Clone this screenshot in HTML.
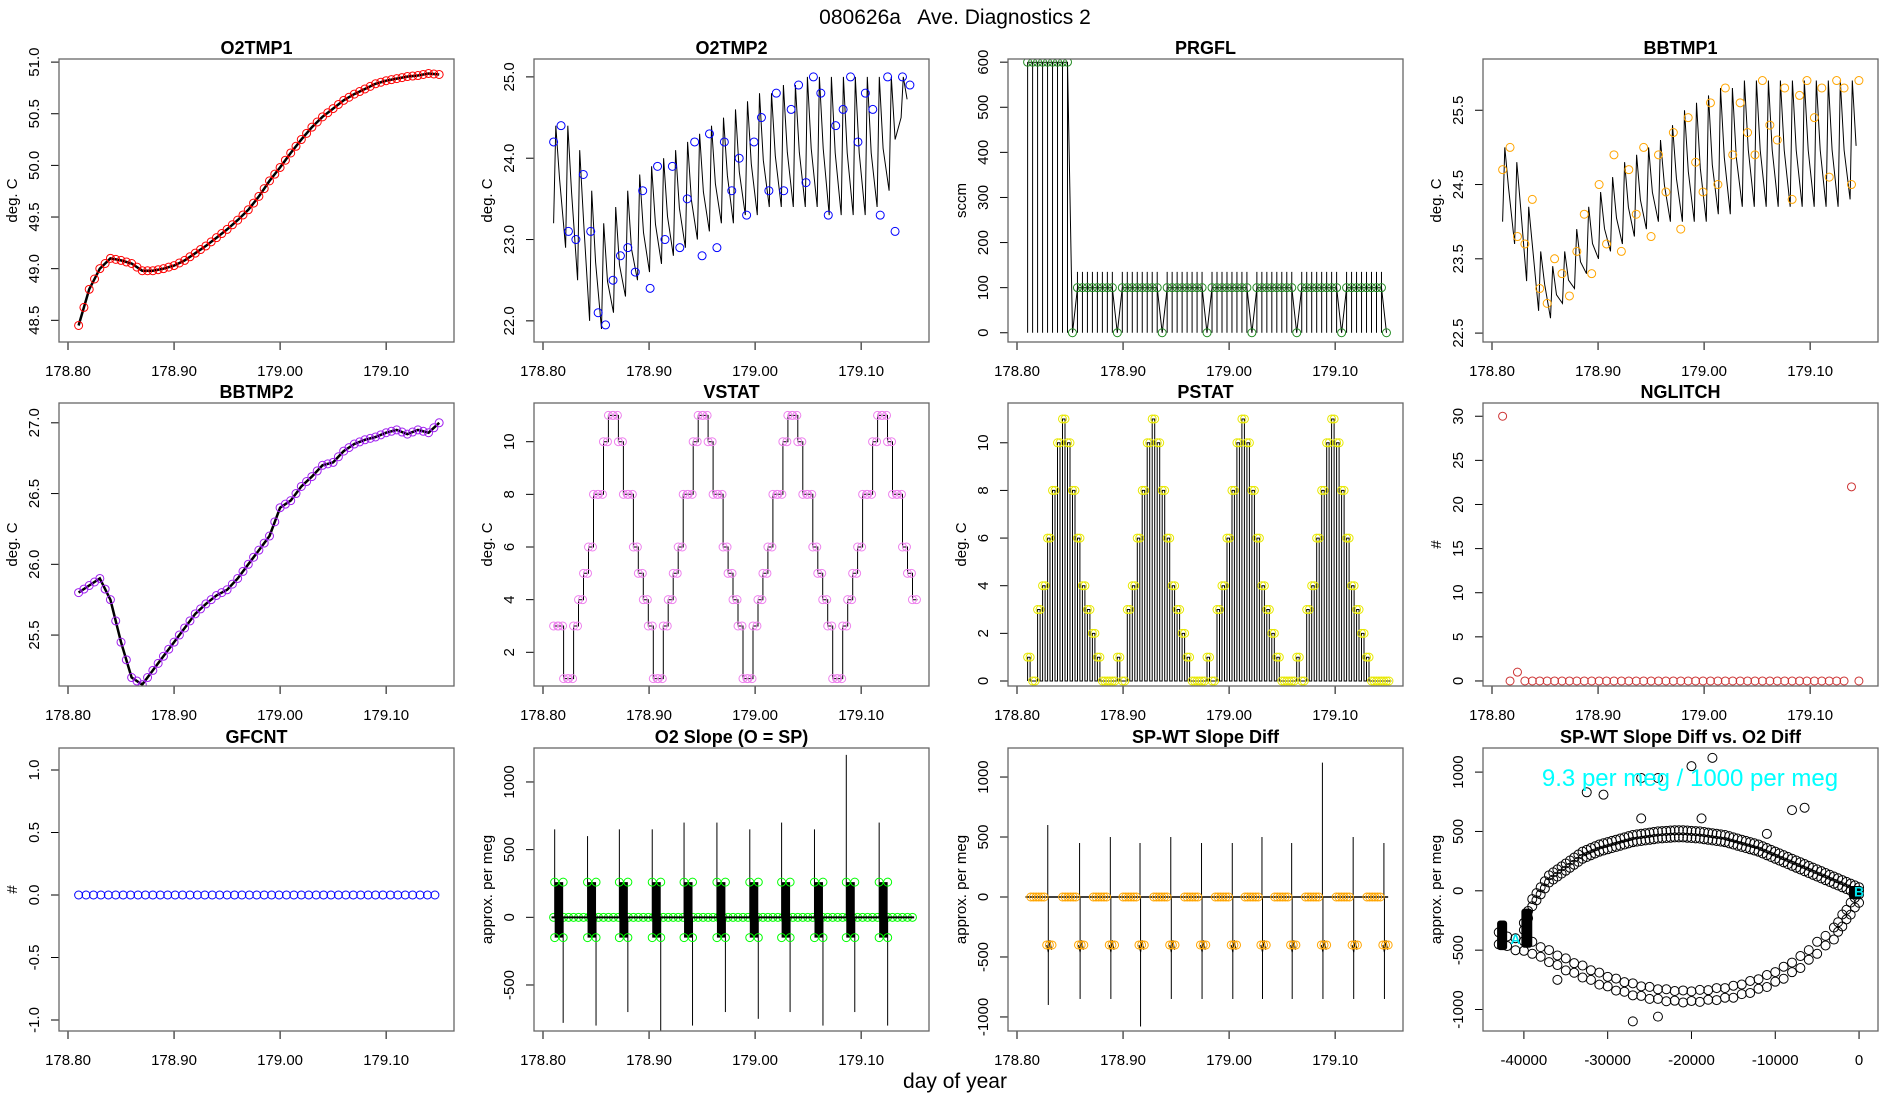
<!DOCTYPE html>
<html><head><meta charset="utf-8"><title>080626a Ave. Diagnostics 2</title>
<style>
html,body{margin:0;padding:0;background:#fff;}
svg{display:block;font-family:"Liberation Sans",sans-serif;}
</style></head>
<body>
<svg id="chart" width="1900" height="1100" viewBox="0 0 1900 1100" xmlns="http://www.w3.org/2000/svg">
<rect x="0" y="0" width="1900" height="1100" fill="#fff"/>
<text x="955" y="24" font-size="21" text-anchor="middle" style="white-space:pre" xml:space="preserve">080626a   Ave. Diagnostics 2</text>
<text x="955" y="1088" font-size="21" text-anchor="middle">day of year</text>
</svg>
<script>
// ---------------- data ----------------
const timeTicks = [178.80, 178.90, 179.00, 179.10];
const timeTickLabels = ["178.80", "178.90", "179.00", "179.10"];
const sampleStart = 178.81;
const sampleStep = 0.0047;
const circleStep = 0.007;
const sawStart = 178.81;
const sawPeriod = 0.0113;

const o2tmp1Times = [178.81,178.82,178.83,178.84,178.85,178.86,178.87,178.88,178.89,178.90,178.91,178.92,178.93,178.94,178.95,178.96,178.97,178.98,178.99,179.00,179.01,179.02,179.03,179.04,179.05,179.06,179.07,179.08,179.09,179.10,179.11,179.12,179.13,179.14,179.15];
const o2tmp1Values = [48.45,48.8,49.0,49.1,49.08,49.05,48.98,48.98,49.0,49.03,49.08,49.15,49.22,49.3,49.38,49.47,49.57,49.7,49.85,49.98,50.12,50.25,50.37,50.47,50.55,50.63,50.69,50.74,50.79,50.82,50.84,50.86,50.87,50.89,50.88];

const o2tmp2Peaks = [24.4,24.4,24.1,23.6,23.2,23.4,23.6,23.8,23.9,24.0,24.1,24.2,24.3,24.4,24.5,24.6,24.7,24.8,24.8,24.9,24.9,25.0,25.0,25.0,25.0,25.0,25.0,25.0,25.0,25.0];
const o2tmp2Troughs = [23.2,22.9,22.5,22.0,21.9,22.1,22.3,22.5,22.6,22.7,22.8,22.9,23.0,23.1,23.2,23.2,23.3,23.3,23.4,23.4,23.4,23.4,23.4,23.3,23.3,23.3,23.3,23.4,23.6,24.5];
const o2tmp2Circles = [24.2,24.4,23.1,23.0,23.8,23.1,22.1,21.95,22.5,22.8,22.9,22.6,23.6,22.4,23.9,23.0,23.9,22.9,23.5,24.2,22.8,24.3,22.9,24.2,23.6,24.0,23.3,24.2,24.5,23.6,24.8,23.6,24.6,24.9,23.7,25.0,24.8,23.3,24.4,24.6,25.0,24.2,24.8,24.6,23.3,25.0,23.1,25.0,24.9];

const prgflValues = [600,600,600,600,600,600,600,600,600,0,
 100,100,100,100,100,100,100,100,0, 100,100,100,100,100,100,100,100,0,
 100,100,100,100,100,100,100,100,0, 100,100,100,100,100,100,100,100,0,
 100,100,100,100,100,100,100,100,0, 100,100,100,100,100,100,100,100,0,
 100,100,100,100,100,100,100,100,0];

const bbtmp1Peaks = [25.0,24.8,24.2,23.6,23.4,23.6,23.9,24.2,24.4,24.6,24.8,24.9,25.0,25.1,25.3,25.5,25.6,25.7,25.8,25.8,25.9,25.9,25.9,25.9,25.9,25.9,25.9,25.9,25.9,25.9];
const bbtmp1Troughs = [24.0,23.7,23.2,22.8,22.7,22.9,23.1,23.3,23.5,23.6,23.7,23.8,23.9,24.0,24.0,24.0,24.0,24.0,24.1,24.1,24.2,24.2,24.2,24.2,24.2,24.2,24.2,24.2,24.2,24.3];
const bbtmp1Circles = [24.7,25.0,23.8,23.7,24.3,23.1,22.9,23.5,23.3,23.0,23.6,24.1,23.3,24.5,23.7,24.9,23.6,24.7,24.1,25.0,23.8,24.9,24.4,25.2,23.9,25.4,24.8,24.4,25.6,24.5,25.8,24.9,25.6,25.2,24.9,25.9,25.3,25.1,25.8,24.3,25.7,25.9,25.4,25.8,24.6,25.9,25.8,24.5,25.9];

const bbtmp2Times = o2tmp1Times;
const bbtmp2Values = [25.8,25.85,25.9,25.75,25.45,25.2,25.15,25.25,25.35,25.45,25.55,25.65,25.72,25.78,25.82,25.9,26.0,26.1,26.2,26.4,26.45,26.55,26.62,26.7,26.72,26.8,26.85,26.88,26.9,26.93,26.95,26.92,26.95,26.93,27.0];

const vstatValues = [3,3,1,1,3,4,5,6,8,8,10,11,11,10,8,8,6,5,4,3,1,1,3,4,5,6,8,8,10,11,11,10,8,8,6,5,4,3,1,1,3,4,5,6,8,8,10,11,11,10,8,8,6,5,4,3,1,1,3,4,5,6,8,8,10,11,11,10,8,8,6,5,4];
const pstatValues = [1,0,3,4,6,8,10,11,10,8,6,4,3,2,1,0,0,0,1,0,3,4,6,8,10,11,10,8,6,4,3,2,1,0,0,0,1,0,3,4,6,8,10,11,10,8,6,4,3,2,1,0,0,0,1,0,3,4,6,8,10,11,10,8,6,4,3,2,1,0,0,0,0];

const nglitchValues = [30,0,1,0,0,0,0,0,0,0,0,0,0,0,0,0,0,0,0,0,0,0,0,0,0,0,0,0,0,0,0,0,0,0,0,0,0,0,0,0,0,0,0,0,0,0,0,22,0];
const gfcntValues = [0,0,0,0,0,0,0,0,0,0,0,0,0,0,0,0,0,0,0,0,0,0,0,0,0,0,0,0,0,0,0,0,0,0,0,0,0,0,0,0,0,0,0,0,0,0,0,0,0];

const slopeBlockTimes = [178.815,178.846,178.876,178.907,178.937,178.968,178.999,179.029,179.060,179.090,179.121];
const slopeUp = [650,600,650,650,700,700,650,700,650,1200,700];
const slopeDown = [-780,-800,-700,-900,-800,-700,-750,-700,-800,-700,-800];
const slopeBlockHigh = 260;
const slopeBlockLow = -150;

const diffGroupTimes = [178.820,178.850,178.879,178.907,178.936,178.965,178.994,179.022,179.050,179.079,179.108,179.137];
const diffUp = [600,450,500,450,500,450,450,500,450,1120,500,450];
const diffDown = [-900,-850,-850,-1080,-850,-850,-850,-850,-850,-850,-850,-850];
const diffLow = -400;

const scatterUpperX = [-40000,-39000,-38000,-37000,-36000,-35000,-34000,-33000,-32000,-31000,-30000,-29000,-28000,-27000,-26000,-25000,-24000,-23000,-22000,-21000,-20000,-19000,-18000,-17000,-16000,-15000,-14000,-13000,-12000,-11000,-10000,-9000,-8000,-7000,-6000,-5000,-4000,-3000,-2000,-1000,0];
const scatterUpperY = [-300,-100,0,100,150,200,250,300,330,360,380,400,420,440,450,460,470,475,480,480,475,470,460,450,440,420,400,380,360,330,300,270,240,210,180,150,120,90,60,30,0];
const scatterLowerX = [-43000,-41000,-39000,-37000,-35000,-33000,-31000,-29000,-27000,-25000,-23000,-21000,-19000,-17000,-15000,-13000,-11000,-9000,-7000,-5000,-3000,-2000,-1000,0];
const scatterLowerY = [-400,-450,-480,-550,-620,-680,-740,-790,-830,-860,-880,-890,-885,-870,-850,-810,-760,-690,-600,-480,-360,-250,-150,-50];
const outlierX = [-32500,-30500,-26000,-24000,-20000,-17500,-8000,-6500,-26000,-18800,-36000,-27000,-24000,-11000];
const outlierY = [830,810,610,950,1050,1120,680,700,950,610,-750,-1100,-1060,480];

// ---------------- drawing ----------------
const svg = document.getElementById('chart');
const NS = 'http://www.w3.org/2000/svg';
const COLS = [59, 534, 1008, 1483];
const ROWS = [59, 403, 748];
const PW = 395, PH = 283;
const TD = [178.7915, 179.164];

function el(parent, tag, attrs, name) {
  const e = document.createElementNS(NS, tag);
  for (const k in attrs) e.setAttribute(k, attrs[k]);
  
  
  parent.appendChild(e);
  return e;
}

let clipId = 0;
function panel(c, r, xd, yd, yt, ytl, xt, xtl, title, ylab, name) {
  const L = COLS[c], T = ROWS[r];
  const g = el(svg, 'g', {}, name);
  const sx = v => L + (v - xd[0]) / (xd[1] - xd[0]) * PW;
  const sy = v => T + PH - (v - yd[0]) / (yd[1] - yd[0]) * PH;
  el(g, 'text', {x: L + PW / 2, y: T - 5, 'font-size': 18, 'font-weight': 'bold', 'text-anchor': 'middle'}, name + '-title').textContent = title;
  el(g, 'line', {x1: L, x2: L, y1: sy(yt[0]), y2: sy(yt[yt.length - 1]), stroke: '#000'}, name + '-y-axis-line');
  yt.forEach((v, i) => {
    el(g, 'line', {x1: L - 8, x2: L, y1: sy(v), y2: sy(v), stroke: '#000'}, name + '-y-tick');
    const tx = el(g, 'text', {x: 0, y: 0, 'font-size': 15, 'text-anchor': 'middle', transform: 'translate(' + (L - 20) + ',' + sy(v) + ') rotate(-90)'}, name + '-y-tick-label');
    tx.textContent = ytl[i];
  });
  el(g, 'text', {x: 0, y: 0, 'font-size': 15, 'text-anchor': 'middle', transform: 'translate(' + (L - 42) + ',' + (T + PH / 2) + ') rotate(-90)'}, name + '-y-axis-title').textContent = ylab;
  el(g, 'line', {x1: sx(xt[0]), x2: sx(xt[xt.length - 1]), y1: T + PH, y2: T + PH, stroke: '#000'}, name + '-x-axis-line');
  xt.forEach((v, i) => {
    el(g, 'line', {x1: sx(v), x2: sx(v), y1: T + PH, y2: T + PH + 8, stroke: '#000'}, name + '-x-tick');
    el(g, 'text', {x: sx(v), y: T + PH + 34, 'font-size': 15, 'text-anchor': 'middle'}, name + '-x-tick-label').textContent = xtl[i];
  });
  const cid = 'clip' + (clipId++);
  const cp = el(g, 'clipPath', {id: cid}, name + '-clip');
  el(cp, 'rect', {x: L, y: T, width: PW, height: PH}, name + '-clip-rect');
  const p = el(g, 'g', {'clip-path': 'url(#' + cid + ')'}, name + '-plot-area');
  el(g, 'rect', {x: L, y: T, width: PW, height: PH, fill: 'none', stroke: '#666', 'stroke-width': 1.3}, name + '-frame');
  return {p, sx, sy};
}
function poly(p, pts, attrs, name) {
  const a = Object.assign({points: pts.map(q => q[0].toFixed(1) + ',' + q[1].toFixed(1)).join(' '), fill: 'none', stroke: '#000', 'stroke-width': 1}, attrs);
  return el(p, 'polyline', a, name);
}
function circ(p, x, y, col, name, r) {
  return el(p, 'circle', {cx: x, cy: y, r: r || 4, fill: 'none', stroke: col, 'stroke-width': 1}, name);
}
function sawPts(P, peaks, troughs) {
  const pts = [];
  for (let i = 0; i < peaks.length; i++) {
    const t0 = sawStart + i * sawPeriod;
    pts.push([P.sx(t0), P.sy(troughs[i])]);
    pts.push([P.sx(t0 + sawPeriod * 0.18), P.sy(peaks[i])]);
    pts.push([P.sx(t0 + sawPeriod * 0.5), P.sy(peaks[i] - (peaks[i] - troughs[i]) * 0.55)]);
  }
  return pts;
}

// P1 O2TMP1
(function () {
  const P = panel(0, 0, TD, [48.29, 51.03], [48.5, 49, 49.5, 50, 50.5, 51], ["48.5", "49.0", "49.5", "50.0", "50.5", "51.0"], timeTicks, timeTickLabels, 'O2TMP1', 'deg. C', 'panel-o2tmp1');
  poly(P.p, o2tmp1Times.map((t, i) => [P.sx(t), P.sy(o2tmp1Values[i])]), {'stroke-width': 2.5}, 'o2tmp1-line');
  o2tmp1Times.forEach((t, i) => {
    circ(P.p, P.sx(t), P.sy(o2tmp1Values[i]), 'red', 'o2tmp1-point');
    if (i < o2tmp1Times.length - 1) circ(P.p, P.sx(t + 0.005), P.sy((o2tmp1Values[i] + o2tmp1Values[i + 1]) / 2), 'red', 'o2tmp1-point');
  });
})();

// P2 O2TMP2
(function () {
  const P = panel(1, 0, TD, [21.74, 25.22], [22, 23, 24, 25], ["22.0", "23.0", "24.0", "25.0"], timeTicks, timeTickLabels, 'O2TMP2', 'deg. C', 'panel-o2tmp2');
  poly(P.p, sawPts(P, o2tmp2Peaks, o2tmp2Troughs), {}, 'o2tmp2-line');
  o2tmp2Circles.forEach((v, i) => circ(P.p, P.sx(sampleStart + i * circleStep), P.sy(v), 'blue', 'o2tmp2-point'));
})();

// P3 PRGFL
(function () {
  const P = panel(2, 0, TD, [-20.5, 607], [0, 100, 200, 300, 400, 500, 600], ["0", "100", "200", "300", "400", "500", "600"], timeTicks, timeTickLabels, 'PRGFL', 'sccm', 'panel-prgfl');
  const pts = [];
  prgflValues.forEach((v, i) => {
    const t = sampleStart + i * sampleStep;
    const top = v === 600 ? 600 : (v === 0 ? 0 : 135);
    el(P.p, 'line', {x1: P.sx(t), x2: P.sx(t), y1: P.sy(0), y2: P.sy(top), stroke: '#000', 'stroke-width': 1}, 'prgfl-spike');
    pts.push([P.sx(t), P.sy(v)]);
  });
  poly(P.p, pts, {}, 'prgfl-line');
  prgflValues.forEach((v, i) => circ(P.p, P.sx(sampleStart + i * sampleStep), P.sy(v), '#228B22', 'prgfl-point'));
})();

// P4 BBTMP1
(function () {
  const P = panel(3, 0, TD, [22.38, 26.19], [22.5, 23.5, 24.5, 25.5], ["22.5", "23.5", "24.5", "25.5"], timeTicks, timeTickLabels, 'BBTMP1', 'deg. C', 'panel-bbtmp1');
  poly(P.p, sawPts(P, bbtmp1Peaks, bbtmp1Troughs), {}, 'bbtmp1-line');
  bbtmp1Circles.forEach((v, i) => circ(P.p, P.sx(sampleStart + i * circleStep), P.sy(v), 'orange', 'bbtmp1-point'));
})();

// P5 BBTMP2
(function () {
  const P = panel(0, 1, TD, [25.14, 27.14], [25.5, 26, 26.5, 27], ["25.5", "26.0", "26.5", "27.0"], timeTicks, timeTickLabels, 'BBTMP2', 'deg. C', 'panel-bbtmp2');
  poly(P.p, bbtmp2Times.map((t, i) => [P.sx(t), P.sy(bbtmp2Values[i])]), {'stroke-width': 2.5}, 'bbtmp2-line');
  bbtmp2Times.forEach((t, i) => {
    circ(P.p, P.sx(t), P.sy(bbtmp2Values[i]), '#A020F0', 'bbtmp2-point');
    if (i < bbtmp2Times.length - 1) circ(P.p, P.sx(t + 0.005), P.sy((bbtmp2Values[i] + bbtmp2Values[i + 1]) / 2), '#A020F0', 'bbtmp2-point');
  });
})();

// P6 VSTAT
(function () {
  const P = panel(1, 1, TD, [0.72, 11.47], [2, 4, 6, 8, 10], ["2", "4", "6", "8", "10"], timeTicks, timeTickLabels, 'VSTAT', 'deg. C', 'panel-vstat');
  const pts = [];
  vstatValues.forEach((v, i) => {
    const t = sampleStart + i * sampleStep;
    pts.push([P.sx(t), P.sy(v)]);
    pts.push([P.sx(t + sampleStep), P.sy(v)]);
  });
  poly(P.p, pts, {}, 'vstat-line');
  vstatValues.forEach((v, i) => {
    const t = sampleStart + i * sampleStep;
    circ(P.p, P.sx(t), P.sy(v), '#EE82EE', 'vstat-point');
    circ(P.p, P.sx(t + sampleStep * 0.8), P.sy(v), '#EE82EE', 'vstat-point');
  });
})();

// P7 PSTAT
(function () {
  const P = panel(2, 1, TD, [-0.21, 11.67], [0, 2, 4, 6, 8, 10], ["0", "2", "4", "6", "8", "10"], timeTicks, timeTickLabels, 'PSTAT', 'deg. C', 'panel-pstat');
  const pts = [];
  pstatValues.forEach((v, i) => {
    const t = sampleStart + i * sampleStep;
    pts.push([P.sx(t), P.sy(0)], [P.sx(t), P.sy(v)], [P.sx(t + sampleStep / 2), P.sy(v)], [P.sx(t + sampleStep / 2), P.sy(0)], [P.sx(t + sampleStep), P.sy(0)]);
  });
  poly(P.p, pts, {}, 'pstat-line');
  pstatValues.forEach((v, i) => {
    const t = sampleStart + i * sampleStep;
    circ(P.p, P.sx(t), P.sy(v), '#E8E800', 'pstat-point');
    circ(P.p, P.sx(t + sampleStep / 2), P.sy(v), '#E8E800', 'pstat-point');
  });
})();

// P8 NGLITCH
(function () {
  const P = panel(3, 1, TD, [-0.57, 31.5], [0, 5, 10, 15, 20, 25, 30], ["0", "5", "10", "15", "20", "25", "30"], timeTicks, timeTickLabels, 'NGLITCH', '#', 'panel-nglitch');
  nglitchValues.forEach((v, i) => circ(P.p, P.sx(sampleStart + i * circleStep), P.sy(v), '#CD3333', 'nglitch-point'));
})();

// P9 GFCNT
(function () {
  const P = panel(0, 2, TD, [-1.088, 1.176], [-1, -0.5, 0, 0.5, 1], ["-1.0", "-0.5", "0.0", "0.5", "1.0"], timeTicks, timeTickLabels, 'GFCNT', '#', 'panel-gfcnt');
  gfcntValues.forEach((v, i) => circ(P.p, P.sx(sampleStart + i * circleStep), P.sy(v), 'blue', 'gfcnt-point'));
})();

// P10 O2 Slope
(function () {
  const P = panel(1, 2, TD, [-840, 1251], [-500, 0, 500, 1000], ["-500", "0", "500", "1000"], timeTicks, timeTickLabels, 'O2 Slope (O = SP)', 'approx. per meg', 'panel-o2-slope');
  for (let i = 0; i < 73; i++) circ(P.p, P.sx(sampleStart + i * sampleStep), P.sy(0), '#00FF00', 'o2-slope-zero-point');
  el(P.p, 'line', {x1: P.sx(178.808), x2: P.sx(179.15), y1: P.sy(0), y2: P.sy(0), stroke: '#000', 'stroke-width': 2}, 'o2-slope-baseline');
  slopeBlockTimes.forEach((t, k) => {
    el(P.p, 'line', {x1: P.sx(t - 0.004), x2: P.sx(t - 0.004), y1: P.sy(0), y2: P.sy(slopeUp[k]), stroke: '#000'}, 'o2-slope-spike-up');
    el(P.p, 'line', {x1: P.sx(t + 0.004), x2: P.sx(t + 0.004), y1: P.sy(0), y2: P.sy(slopeDown[k]), stroke: '#000'}, 'o2-slope-spike-down');
    el(P.p, 'rect', {x: P.sx(t - 0.004), y: P.sy(slopeBlockHigh), width: P.sx(t + 0.004) - P.sx(t - 0.004), height: P.sy(slopeBlockLow) - P.sy(slopeBlockHigh), fill: '#000'}, 'o2-slope-block');
    [-0.004, 0.004].forEach(d => {
      circ(P.p, P.sx(t + d), P.sy(slopeBlockHigh), '#00FF00', 'o2-slope-point');
      circ(P.p, P.sx(t + d), P.sy(slopeBlockLow), '#00FF00', 'o2-slope-point');
    });
  });
})();

// P11 SP-WT Slope Diff
(function () {
  const P = panel(2, 2, TD, [-1117, 1242], [-1000, -500, 0, 500, 1000], ["-1000", "-500", "0", "500", "1000"], timeTicks, timeTickLabels, 'SP-WT Slope Diff', 'approx. per meg', 'panel-sp-wt-slope-diff');
  el(P.p, 'line', {x1: P.sx(178.808), x2: P.sx(179.15), y1: P.sy(0), y2: P.sy(0), stroke: '#000', 'stroke-width': 1.5}, 'slope-diff-baseline');
  diffGroupTimes.forEach((t, k) => {
    el(P.p, 'line', {x1: P.sx(t + 0.009), x2: P.sx(t + 0.009), y1: P.sy(0), y2: P.sy(diffUp[k]), stroke: '#000'}, 'slope-diff-spike-up');
    el(P.p, 'line', {x1: P.sx(t + 0.0095), x2: P.sx(t + 0.0095), y1: P.sy(0), y2: P.sy(diffDown[k]), stroke: '#000'}, 'slope-diff-spike-down');
    poly(P.p, [[P.sx(t + 0.008), P.sy(diffLow)], [P.sx(t + 0.0095), P.sy(diffLow - 60)], [P.sx(t + 0.011), P.sy(diffLow + 40)], [P.sx(t + 0.0125), P.sy(diffLow - 40)]], {}, 'slope-diff-low-trace');
    [-0.007, -0.0045, -0.002, 0.0005, 0.003, 0.0055].forEach(d => circ(P.p, P.sx(t + d), P.sy(0), 'orange', 'slope-diff-point'));
    [0.008, 0.0105, 0.013].forEach(d => circ(P.p, P.sx(t + d), P.sy(diffLow), 'orange', 'slope-diff-low-point'));
  });
})();

// P12 scatter
(function () {
  const P = panel(3, 2, [-44881, 2262], [-1181, 1203], [-1000, -500, 0, 500, 1000], ["-1000", "-500", "0", "500", "1000"], [-40000, -30000, -20000, -10000, 0], ["-40000", "-30000", "-20000", "-10000", "0"], 'SP-WT Slope Diff vs. O2 Diff', 'approx. per meg', 'panel-slope-vs-o2');
  [-12, 12].forEach(dy => {
    scatterUpperX.forEach((x, i) => {
      circ(P.p, P.sx(x), P.sy(scatterUpperY[i]) + dy * 0.3, '#000', 'scatter-upper-point', 4.5);
      if (i < scatterUpperX.length - 1) circ(P.p, P.sx((x + scatterUpperX[i + 1]) / 2), P.sy((scatterUpperY[i] + scatterUpperY[i + 1]) / 2) - dy * 0.3, '#000', 'scatter-upper-point', 4.5);
    });
    scatterLowerX.forEach((x, i) => {
      circ(P.p, P.sx(x), P.sy(scatterLowerY[i]) + dy * 0.5, '#000', 'scatter-lower-point', 4.5);
      if (i < scatterLowerX.length - 1) circ(P.p, P.sx((x + scatterLowerX[i + 1]) / 2), P.sy((scatterLowerY[i] + scatterLowerY[i + 1]) / 2) - dy * 0.4, '#000', 'scatter-lower-point', 4.5);
    });
  });
  outlierX.forEach((x, i) => circ(P.p, P.sx(x), P.sy(outlierY[i]), '#000', 'scatter-outlier-point', 4.5));
  el(P.p, 'rect', {x: P.sx(-43200), y: P.sy(-250), width: P.sx(-42000) - P.sx(-43200), height: P.sy(-500) - P.sy(-250), fill: '#000', rx: 3}, 'scatter-cluster-left');
  el(P.p, 'rect', {x: P.sx(-40300), y: P.sy(-150), width: P.sx(-39000) - P.sx(-40300), height: P.sy(-480) - P.sy(-150), fill: '#000', rx: 3}, 'scatter-cluster-mid');
  el(P.p, 'rect', {x: P.sx(-1200), y: P.sy(40), width: P.sx(300) - P.sx(-1200), height: P.sy(-70) - P.sy(40), fill: '#000', rx: 3}, 'scatter-cluster-right');
  el(P.p, 'text', {x: P.sx(-41000), y: P.sy(-450), 'font-size': 14, 'font-weight': 'bold', fill: '#00E5EE', 'text-anchor': 'middle'}, 'scatter-marker-a').textContent = 'A';
  el(P.p, 'text', {x: P.sx(0), y: P.sy(-50), 'font-size': 14, 'font-weight': 'bold', fill: '#00E5EE', 'text-anchor': 'middle'}, 'scatter-marker-b').textContent = 'B';
  el(P.p, 'text', {x: 1690, y: 786, 'font-size': 24, fill: '#00FFFF', 'text-anchor': 'middle'}, 'slope-ratio-annotation').textContent = '9.3 per meg / 1000 per meg';
})();
</script>
</body></html>
